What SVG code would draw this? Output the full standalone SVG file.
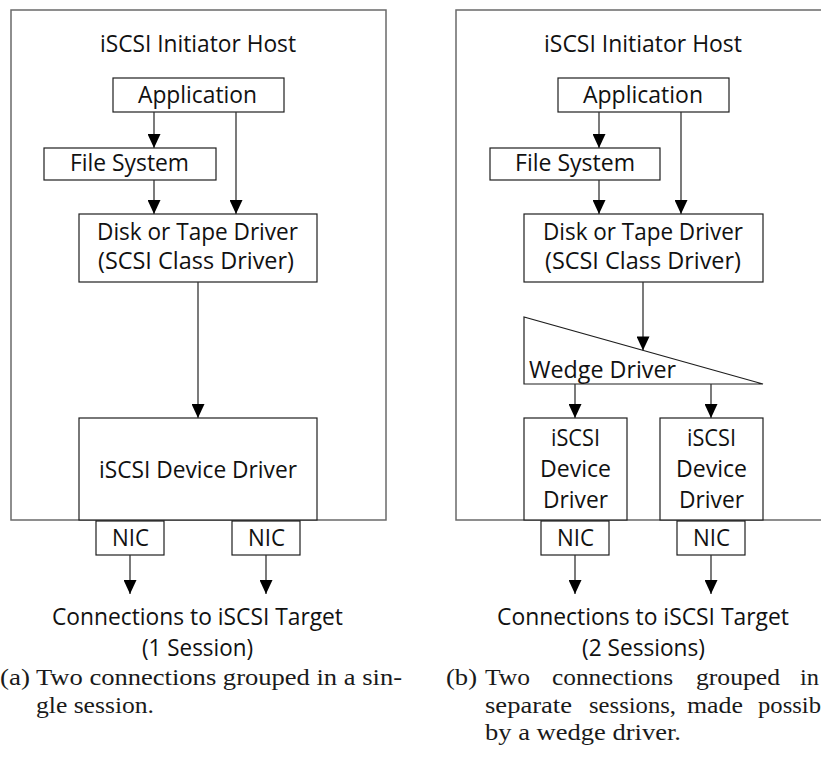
<svg xmlns="http://www.w3.org/2000/svg" width="821" height="760" viewBox="0 0 821 760">
  <defs>
    <marker id="arrow" markerUnits="userSpaceOnUse" markerWidth="14" markerHeight="13" refX="14" refY="6.5" orient="auto">
      <path d="M0,0 L14,6.5 L0,13 Z" fill="#000"/>
    </marker>
  </defs>
  <style>
    .frame { fill: none; stroke: #6a6a6a; stroke-width: 1.5; }
    .box { fill: #fff; stroke: #1e1e1e; stroke-width: 1.2; }
    .lbl { font-family: "Open Sans", "Noto Sans", sans-serif; font-size: 23px; fill: #111; }
    .cap { font-family: "Liberation Serif", "Times New Roman", serif; font-size: 24px; fill: #1a1a1a; }
    .conn line { stroke: #333; stroke-width: 1.3; marker-end: url(#arrow); }
  </style>
  <rect width="821" height="760" fill="#fff"/>

  <!-- Panel (a): single session -->
  <g id="host-a">
    <rect class="frame" x="11" y="10" width="375" height="510"/>
    <text class="lbl" x="100" y="52" textLength="196" lengthAdjust="spacingAndGlyphs">iSCSI Initiator Host</text>
  </g>
  <g id="app-a">
    <rect class="box" x="113" y="78" width="171" height="34"/>
    <text class="lbl" x="138" y="103" textLength="119" lengthAdjust="spacingAndGlyphs">Application</text>
  </g>
  <g id="fs-a">
    <rect class="box" x="44" y="148" width="172" height="32"/>
    <text class="lbl" x="70" y="171" textLength="119" lengthAdjust="spacingAndGlyphs">File System</text>
  </g>
  <g id="disk-a">
    <rect class="box" x="79" y="214" width="238" height="68"/>
    <text class="lbl" x="97" y="240" textLength="201" lengthAdjust="spacingAndGlyphs">Disk or Tape Driver</text>
    <text class="lbl" x="98" y="269" textLength="196" lengthAdjust="spacingAndGlyphs">(SCSI Class Driver)</text>
  </g>
  <g id="iscsi-a">
    <rect class="box" x="79" y="418" width="238" height="102"/>
    <text class="lbl" x="99" y="478" textLength="198" lengthAdjust="spacingAndGlyphs">iSCSI Device Driver</text>
  </g>
  <g id="nic-a1">
    <rect class="box" x="96" y="521" width="68" height="34"/>
    <text class="lbl" x="112" y="546" textLength="37" lengthAdjust="spacingAndGlyphs">NIC</text>
  </g>
  <g id="nic-a2">
    <rect class="box" x="232" y="521" width="68" height="34"/>
    <text class="lbl" x="248" y="546" textLength="37" lengthAdjust="spacingAndGlyphs">NIC</text>
  </g>
  <g id="target-a">
    <text class="lbl" x="52" y="625" textLength="291" lengthAdjust="spacingAndGlyphs">Connections to iSCSI Target</text>
    <text class="lbl" x="142" y="656" textLength="111" lengthAdjust="spacingAndGlyphs">(1 Session)</text>
  </g>

  <!-- Panel (b): two sessions via wedge driver -->
  <g id="host-b">
    <rect class="frame" x="456" y="10" width="420" height="510"/>
    <text class="lbl" x="544" y="52" textLength="198" lengthAdjust="spacingAndGlyphs">iSCSI Initiator Host</text>
  </g>
  <g id="app-b">
    <rect class="box" x="558" y="78" width="171" height="34"/>
    <text class="lbl" x="583" y="103" textLength="120" lengthAdjust="spacingAndGlyphs">Application</text>
  </g>
  <g id="fs-b">
    <rect class="box" x="490" y="148" width="170" height="32"/>
    <text class="lbl" x="515" y="171" textLength="120" lengthAdjust="spacingAndGlyphs">File System</text>
  </g>
  <g id="disk-b">
    <rect class="box" x="524" y="214" width="239" height="68"/>
    <text class="lbl" x="543" y="240" textLength="200" lengthAdjust="spacingAndGlyphs">Disk or Tape Driver</text>
    <text class="lbl" x="545" y="269" textLength="196" lengthAdjust="spacingAndGlyphs">(SCSI Class Driver)</text>
  </g>
  <g id="wedge-b">
    <polygon class="box" points="524,317 524,384 763,384"/>
    <text class="lbl" x="529" y="378" textLength="147" lengthAdjust="spacingAndGlyphs">Wedge Driver</text>
  </g>
  <g id="iscsi-b1">
    <rect class="box" x="524" y="418" width="103" height="102"/>
    <text class="lbl" x="551" y="446" textLength="49" lengthAdjust="spacingAndGlyphs">iSCSI</text>
    <text class="lbl" x="540" y="477" textLength="71" lengthAdjust="spacingAndGlyphs">Device</text>
    <text class="lbl" x="543" y="508" textLength="65" lengthAdjust="spacingAndGlyphs">Driver</text>
  </g>
  <g id="iscsi-b2">
    <rect class="box" x="660" y="418" width="103" height="102"/>
    <text class="lbl" x="687" y="446" textLength="49" lengthAdjust="spacingAndGlyphs">iSCSI</text>
    <text class="lbl" x="676" y="477" textLength="71" lengthAdjust="spacingAndGlyphs">Device</text>
    <text class="lbl" x="679" y="508" textLength="65" lengthAdjust="spacingAndGlyphs">Driver</text>
  </g>
  <g id="nic-b1">
    <rect class="box" x="541" y="521" width="68" height="34"/>
    <text class="lbl" x="557" y="546" textLength="37" lengthAdjust="spacingAndGlyphs">NIC</text>
  </g>
  <g id="nic-b2">
    <rect class="box" x="677" y="521" width="68" height="34"/>
    <text class="lbl" x="693" y="546" textLength="37" lengthAdjust="spacingAndGlyphs">NIC</text>
  </g>
  <g id="target-b">
    <text class="lbl" x="497" y="625" textLength="292" lengthAdjust="spacingAndGlyphs">Connections to iSCSI Target</text>
    <text class="lbl" x="582" y="656" textLength="123" lengthAdjust="spacingAndGlyphs">(2 Sessions)</text>
  </g>

  <!-- Connectors -->
  <g id="connectors" class="conn">
    <line x1="154" y1="112" x2="154" y2="148"/>
    <line x1="236" y1="112" x2="236" y2="214"/>
    <line x1="154" y1="180" x2="154" y2="214"/>
    <line x1="198" y1="282" x2="198" y2="418"/>
    <line x1="130" y1="555" x2="130" y2="594"/>
    <line x1="266" y1="555" x2="266" y2="594"/>

    <line x1="599" y1="112" x2="599" y2="148"/>
    <line x1="681" y1="112" x2="681" y2="214"/>
    <line x1="599" y1="180" x2="599" y2="214"/>
    <line x1="643" y1="282" x2="643" y2="350.4"/>
    <line x1="575" y1="384" x2="575" y2="418"/>
    <line x1="711" y1="384" x2="711" y2="418"/>
    <line x1="575" y1="555" x2="575" y2="594"/>
    <line x1="711" y1="555" x2="711" y2="594"/>
  </g>

  <!-- Sub-captions -->
  <g id="caption-a" class="cap">
    <text x="0" y="685" textLength="30" lengthAdjust="spacingAndGlyphs">(a)</text>
    <text x="36" y="685" textLength="366" lengthAdjust="spacingAndGlyphs">Two connections grouped in a sin-</text>
    <text x="36" y="713" textLength="118" lengthAdjust="spacingAndGlyphs">gle session.</text>
  </g>
  <g id="caption-b" class="cap">
    <text x="446" y="685" textLength="31" lengthAdjust="spacingAndGlyphs">(b)</text>
    <text x="485" y="685" textLength="45" lengthAdjust="spacingAndGlyphs">Two</text>
    <text x="552" y="685" textLength="121" lengthAdjust="spacingAndGlyphs">connections</text>
    <text x="696" y="685" textLength="84" lengthAdjust="spacingAndGlyphs">grouped</text>
    <text x="800" y="685" textLength="19" lengthAdjust="spacingAndGlyphs">in</text>
    <text x="485" y="713" textLength="87" lengthAdjust="spacingAndGlyphs">separate</text>
    <text x="589" y="713" textLength="87" lengthAdjust="spacingAndGlyphs">sessions,</text>
    <text x="687" y="713" textLength="56" lengthAdjust="spacingAndGlyphs">made</text>
    <text x="758" y="713" textLength="63" lengthAdjust="spacingAndGlyphs">possib</text>
    <text x="485" y="740" textLength="196" lengthAdjust="spacingAndGlyphs">by a wedge driver.</text>
  </g>
</svg>
